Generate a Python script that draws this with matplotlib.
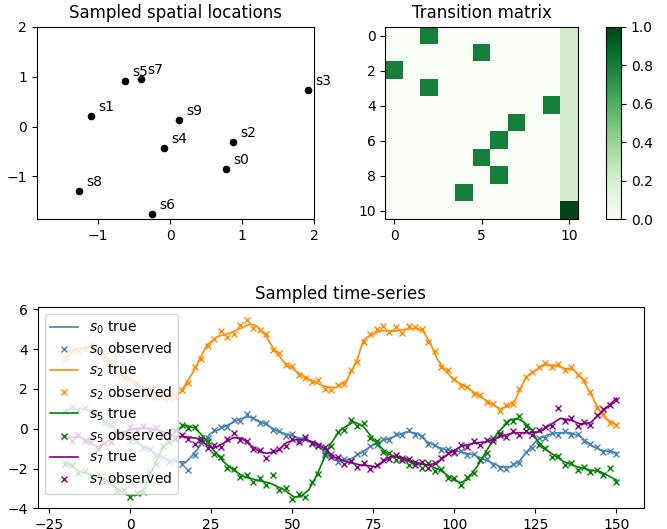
import numpy as np
import matplotlib
matplotlib.use("Agg")
import matplotlib.pyplot as plt

plt.rcParams['font.size'] = 10

# ---------------- spatial locations ----------------
loc_names = ["s0", "s1", "s2", "s3", "s4", "s5", "s6", "s7", "s8", "s9"]
loc_x = [0.78, -1.09, 0.87, 1.91, -0.08, -0.63, -0.25, -0.41, -1.26, 0.125]
loc_y = [-0.86, 0.21, -0.31, 0.74, -0.44, 0.92, -1.76, 0.95, -1.30, 0.13]

# ---------------- transition matrix ----------------
n_states = 11
next_state = [2, 5, 0, 2, 9, 7, 6, 5, 6, 4]   # row -> column of the 0.8 entry
p_move = 0.8
p_absorb = 0.2
p_stay_absorbing = 1.0

# ---------------- time series: true curves ----------------
t_s0 = [-20, -15.4, -11.3, -7.2, -3.1, 1, 5.1, 9.3, 13.4, 16.5, 17, 19.5, 22.1, 24.7, 27.8, 30.9, 34, 36.5,
        39.1, 42.2, 45.3, 48.4, 52.5, 55.6, 58.6, 61.7, 64.8, 67.9, 71, 74.1, 77.2, 81.3, 85.4, 88.5,
        91.6, 94.6, 97.7, 101.9, 106, 110.1, 114.2, 117.3, 119.9, 122.4, 125.5, 128.8, 131.7, 135.8,
        138.9, 142, 145.1, 150]
v_s0 = [0.94, 1.03, 0.86, 0.27, -0.23, -0.57, -0.98, -1.41, -1.66, -1.66, -1.72, -1.30, -0.75, -0.26, 0.0,
        0.25, 0.50, 0.60, 0.44, 0.19, -0.11, -0.28, -0.48, -0.65, -0.95, -1.30, -1.66, -1.54, -1.24, -0.90,
        -0.65, -0.40, -0.15, -0.23, -0.65, -0.90, -1.07, -1.16, -1.32, -1.60, -1.91, -1.91, -1.66, -1.16,
        -0.57, -0.31, -0.20, -0.20, -0.40, -0.82, -1.07, -1.20]

t_s2 = [-20, -16.4, -12.1, -8.2, -5.1, -1, 3.1, 7.2, 11.3, 15.4, 17, 19.5, 21.6, 23.7, 26.8, 31, 34, 37,
        39.1, 41.7, 44.2, 47.3, 51.4, 55.6, 59.5, 61.7, 63.8, 66.9, 70, 72, 74.6, 77.2, 81.3, 85.4, 88.5,
        90.5, 92.6, 94.6, 96.7, 99.8, 103.9, 108, 112.1, 114.2, 116.8, 118.8, 120.4, 122.4, 124.5, 127.6,
        130.7, 133.8, 136.9, 139.4, 142, 144.1, 146.6, 150]
v_s2 = [3.54, 4.04, 4.12, 3.79, 3.04, 2.53, 2.11, 1.78, 1.69, 1.78, 2.20, 2.86, 3.54, 4.20, 4.62, 4.82,
        5.04, 5.26, 5.16, 4.70, 4.04, 3.37, 2.86, 2.45, 2.15, 2.08, 2.08, 2.45, 3.45, 4.46, 4.71, 4.92,
        4.90, 5.00, 5.04, 4.88, 4.30, 3.54, 3.04, 2.45, 2.08, 1.61, 1.19, 1.00, 1.14, 1.44, 2.03, 2.65,
        2.86, 3.20, 3.20, 3.04, 2.95, 2.53, 1.78, 1.10, 0.52, 0.19]

t_s5 = [-20, -15.4, -11.3, -7.2, -4.1, -1, 2.1, 4.1, 7.2, 10.3, 13.4, 17, 20.1, 22.6, 25.7, 28.8, 31.9,
        35, 39.1, 43.2, 47.3, 50.4, 52.5, 55.1, 57.6, 60.2, 61.7, 64.8, 69, 72, 75.2, 79.2, 83.3, 87.4,
        91.6, 95.7, 99.8, 101.9, 103.9, 107, 110.1, 113.2, 117.3, 119.3, 121.4, 123.5, 125.5, 127.6,
        130.7, 133.8, 137.9, 142, 145.1, 150]
v_s5 = [-1.66, -2.16, -2.33, -2.58, -3.00, -3.33, -3.33, -3.08, -1.91, -0.90, -0.23, 0.19, 0.02, -0.40,
        -1.07, -1.66, -2.08, -2.41, -2.58, -2.74, -3.05, -3.42, -3.42, -3.08, -2.33, -1.35, -0.80, -0.07,
        0.35, 0.11, -0.57, -1.24, -1.49, -1.74, -1.82, -2.08, -2.58, -2.71, -2.58, -1.91, -1.07, -0.23,
        0.44, 0.52, 0.35, 0.02, -0.57, -0.99, -1.32, -1.66, -1.91, -2.08, -2.16, -2.58]

t_s7 = [-20, -15.4, -11.3, -9.3, -6.2, -2.1, 2.1, 6.2, 10.3, 14.4, 17, 20.6, 23.7, 25.7, 28.8, 31.9,
        34.5, 37, 40.1, 42.2, 45.3, 48.4, 51.4, 54.5, 57.6, 60, 62.7, 66.9, 71, 76.1, 80.2, 83.3, 87.4,
        91.6, 94.6, 97.7, 101.9, 106, 110.1, 114.2, 118.3, 122.4, 126.5, 129.6, 132.7, 135.8, 138.9,
        142, 145.1, 150]
v_s7 = [-0.48, -0.40, -0.82, -0.90, -0.57, -0.15, 0.02, 0.02, -0.15, -0.40, -0.40, -0.48, -0.82, -0.99,
        -0.73, -0.45, -0.48, -0.82, -1.16, -1.24, -1.12, -0.69, -0.53, -0.57, -0.73, -1.00, -1.41, -1.66,
        -1.82, -1.91, -1.41, -1.41, -1.66, -1.82, -1.74, -1.32, -0.90, -0.73, -0.65, -0.40, -0.20, -0.20,
        -0.15, 0.19, 0.52, 0.44, 0.23, 0.30, 0.77, 1.53]

# ---------------- time series: observations ----------------
t_obs = list(range(-20, 151, 2))
obs_s0 = [0.85, 1.10, 0.95, 1.05, 0.80, 0.75, 0.30, 0.20, -0.20, -0.25, -0.60, -0.60, -0.95, -1.00,
          -1.35, -1.40, -1.65, -1.55, -1.75, -2.05, -1.30, -0.70, -0.45, -0.05, 0.10, 0.10, 0.45, 0.40,
          0.75, 0.55, 0.30, 0.30, -0.05, -0.10, -0.35, -0.25, -0.55, -0.50, -0.75, -0.80, -1.20, -1.25,
          -1.65, -1.50, -1.60, -1.25, -1.20, -0.85, -0.80, -0.50, -0.55, -0.25, -0.30, -0.05, -0.30,
          -0.35, -0.75, -0.80, -1.05, -1.00, -1.20, -1.10, -1.30, -1.25, -1.55, -1.50, -1.80, -1.95,
          -2.00, -1.75, -1.70, -1.15, -0.95, -0.45, -0.45, -0.20, -0.30, -0.10, -0.30, -0.25, -0.60,
          -0.75, -0.90, -1.15, -1.10, -1.25]
obs_s2 = [3.50, 3.95, 3.90, 4.00, 4.25, 3.85, 3.65, 3.35, 2.75, 2.55, 2.50, 2.30, 1.90, 1.95, 1.60,
          1.80, 1.55, 1.65, 1.95, 2.30, 3.10, 3.50, 4.15, 4.50, 4.90, 4.60, 4.75, 5.20, 5.45, 5.05,
          4.95, 4.75, 3.95, 3.80, 3.20, 3.15, 2.70, 2.55, 2.35, 2.45, 2.00, 1.95, 2.20, 2.25, 2.95,
          3.35, 4.35, 4.75, 5.00, 5.15, 4.85, 5.10, 4.80, 5.15, 5.10, 5.00, 4.35, 3.90, 3.10, 2.95,
          2.50, 2.15, 2.10, 1.75, 1.70, 1.35, 1.25, 0.90, 1.20, 1.25, 2.00, 2.60, 2.85, 3.10, 3.30,
          3.10, 3.25, 2.95, 3.10, 2.70, 2.45, 1.85, 1.05, 0.75, 0.30, 0.20]
obs_s5 = [-1.75, -1.80, -2.25, -2.10, -2.40, -2.30, -2.70, -2.60, -3.15, -3.10, -3.45, -3.25, -3.20,
          -2.20, -1.75, -0.85, -0.65, -0.05, 0.20, 0.05, 0.10, -0.45, -0.60, -1.25, -1.40, -1.95,
          -2.00, -2.45, -2.35, -2.70, -2.50, -2.85, -2.35, -3.10, -3.00, -3.55, -3.30, -3.45, -2.70,
          -2.30, -1.30, -0.85, -0.15, -0.05, 0.45, 0.15, 0.30, -0.45, -0.60, -1.15, -1.20, -1.55,
          -1.45, -1.80, -1.65, -1.95, -1.70, -2.10, -2.00, -2.50, -2.50, -2.85, -2.45, -2.25, -1.55,
          -1.20, -0.45, -0.20, 0.35, 0.40, 0.65, 0.15, -0.05, -0.80, -0.95, -1.40, -1.35, -1.80, -1.70,
          -2.05, -1.90, -2.20, -2.05, -2.35, -1.95, -2.70]
obs_s7 = [-0.40, -0.60, -0.30, -0.60, -0.65, -1.00, -0.70, -0.65, -0.25, -0.20, 0.10, -0.05, 0.15,
          -0.10, 0.05, -0.30, -0.15, -0.50, -0.30, -0.50, -0.75, -0.55, -0.95, -0.80, -0.90, -0.50,
          -0.20, -0.55, -0.60, -1.00, -1.05, -1.45, -1.10, -1.00, -0.85, -0.50, -0.65, -0.40, -0.70,
          -0.85, -0.90, -1.40, -1.40, -1.75, -1.60, -1.90, -1.70, -2.00, -1.80, -1.55, -1.50, -1.30,
          -1.55, -1.50, -1.80, -1.65, -1.95, -1.70, -1.45, -1.20, -1.15, -0.80, -0.90, -0.60, -0.80,
          -0.55, -0.60, -0.30, -0.40, -0.10, -0.30, -0.10, -0.30, -0.05, 0.10, 0.15, 1.05, 0.40, 0.55,
          0.15, 0.35, 0.20, 0.70, 1.00, 1.20, 1.45]

series_names = ["s_0", "s_2", "s_5", "s_7"]
series_colors = ["steelblue", "darkorange", "green", "purple"]

# ---------------- figure ----------------
fig = plt.figure(figsize=(6.67, 5.29), dpi=100)

ax1 = fig.add_axes([0.055, 0.5854, 0.4162, 0.364])
ax1.scatter(loc_x, loc_y, s=20, color="black", zorder=3)
for name, x, y in zip(loc_names, loc_x, loc_y):
    ax1.text(x + 0.1, y + 0.1, name, fontsize=10)
ax1.set_xlim(-1.85, 2.0)
ax1.set_ylim(-1.86, 2.0)
ax1.set_xticks([-1, 0, 1, 2])
ax1.set_yticks([-1, 0, 1, 2])
ax1.set_title("Sampled spatial locations", fontsize=12)

P = np.zeros((n_states, n_states))
for i, j in enumerate(next_state):
    P[i, j] = p_move
    P[i, n_states - 1] = p_absorb
P[n_states - 1, n_states - 1] = p_stay_absorbing

ax2 = fig.add_axes([0.5772, 0.5854, 0.2898, 0.364])
im = ax2.imshow(P, cmap="Greens", vmin=0, vmax=1)
ax2.set_title("Transition matrix", fontsize=12)
cax = fig.add_axes([0.9085, 0.5854, 0.0225, 0.364])
fig.colorbar(im, cax=cax)

ax3 = fig.add_axes([0.0565, 0.0391, 0.909, 0.38])
trues = [(t_s0, v_s0), (t_s2, v_s2), (t_s5, v_s5), (t_s7, v_s7)]
obss = [obs_s0, obs_s2, obs_s5, obs_s7]
for name, col, (tt, vv), ob in zip(series_names, series_colors, trues, obss):
    ax3.plot(tt, vv, color=col, lw=1.2, label=f"${name}$ true")
    ax3.plot(t_obs, ob, ls="none", marker="x", ms=4.2, mew=1.0, color=col,
             label=f"${name}$ observed")
ax3.set_xlim(-28.5, 158.5)
ax3.set_ylim(-4.0, 6.1)
ax3.set_xticks([-25, 0, 25, 50, 75, 100, 125, 150])
ax3.set_yticks([-4, -2, 0, 2, 4, 6])
ax3.set_title("Sampled time-series", fontsize=12)
ax3.legend(loc="upper left", labelspacing=0.34)

fig.savefig("out.png", dpi=100)
